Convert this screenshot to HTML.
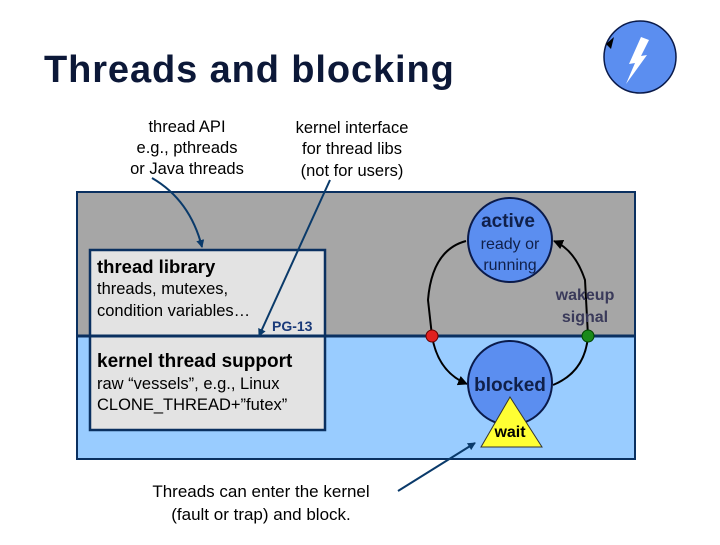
<!DOCTYPE html>
<html><head><style>
body{margin:0;width:720px;height:540px;background:#fff;overflow:hidden;font-family:"Liberation Sans",sans-serif}
</style></head><body>
<svg width="720" height="540" viewBox="0 0 720 540" font-family="Liberation Sans, sans-serif">
<defs>
<marker id="a" markerWidth="8" markerHeight="8" refX="7" refY="4" orient="auto" markerUnits="userSpaceOnUse"><path d="M0,0 L8,4 L0,8z" fill="#0a3a6a"/></marker>
<marker id="b" markerWidth="10" markerHeight="10" refX="9" refY="5" orient="auto" markerUnits="userSpaceOnUse"><path d="M0,0 L10,5 L0,10z" fill="#000"/></marker>
</defs>
<text x="44" y="82" font-size="38" font-weight="bold" fill="#0c1838" letter-spacing="0.9">Threads and blocking</text>
<circle cx="640" cy="57" r="36" fill="#5b8ef0" stroke="#0a1a4a" stroke-width="1.5"/>
<path d="M606,44 L614,37 L611,49z" fill="#000"/>
<path d="M641,37 L649,40 L641,56 L647,55 L626,84 L635,63 L629,64z" fill="#fff"/>
<g font-size="16.5" fill="#000" text-anchor="middle">
<text x="187" y="132">thread API</text><text x="187" y="153">e.g., pthreads</text><text x="187" y="174">or Java threads</text>
<text x="352" y="133">kernel interface</text><text x="352" y="154">for thread libs</text><text x="352" y="176">(not for users)</text>
</g>
<rect x="77" y="192" width="558" height="144" fill="#a6a6a6"/>
<rect x="77" y="336" width="558" height="123" fill="#99ccff"/>
<rect x="77" y="192" width="558" height="267" fill="none" stroke="#0a3060" stroke-width="2"/>
<rect x="90" y="250" width="235" height="86" fill="#e3e3e3" stroke="#0a3060" stroke-width="2.5"/>
<rect x="90" y="336" width="235" height="94" fill="#e3e3e3" stroke="#0a3060" stroke-width="2.5"/>
<line x1="77" y1="336" x2="635" y2="336" stroke="#0a3060" stroke-width="3"/>
<text x="97" y="273" font-size="18.5" font-weight="bold">thread library</text>
<text x="97" y="294" font-size="16.5">threads, mutexes,</text>
<text x="97" y="316" font-size="16.5">condition variables…</text>
<text x="272" y="331" font-size="14" font-weight="bold" fill="#1a3a7a">PG-13</text>
<text x="97" y="367" font-size="19" font-weight="bold">kernel thread support</text>
<text x="97" y="389" font-size="16.5">raw “vessels”, e.g., Linux</text>
<text x="97" y="410" font-size="16.5">CLONE_THREAD+”futex”</text>
<path d="M152,178 Q190,200 202,247" fill="none" stroke="#0a3a6a" stroke-width="2" marker-end="url(#a)"/>
<line x1="330" y1="180" x2="259" y2="336" stroke="#0a3a6a" stroke-width="2" marker-end="url(#a)"/>
<line x1="398" y1="491" x2="475" y2="443" stroke="#0a3a6a" stroke-width="2" marker-end="url(#a)"/>
<path d="M466,241 Q432,250 428,300 L432,336 Q438,372 467,384" fill="none" stroke="#000" stroke-width="2" marker-end="url(#b)"/>
<path d="M553,385 Q585,372 588,336 L585,280 Q575,250 554,241" fill="none" stroke="#000" stroke-width="2" marker-end="url(#b)"/>
<circle cx="510" cy="240" r="42" fill="#5b8ef0" stroke="#0a1a4a" stroke-width="2"/>
<circle cx="510" cy="383" r="42" fill="#5b8ef0" stroke="#0a1a4a" stroke-width="2"/>
<path d="M510,397 L542,447 L481,447z" fill="#ffff33" stroke="#333" stroke-width="1"/>
<circle cx="432" cy="336" r="6" fill="#e02020" stroke="#600" stroke-width="1"/>
<circle cx="588" cy="336" r="6" fill="#1a8a1a" stroke="#040" stroke-width="1"/>
<g text-anchor="middle" fill="#10204a">
<text x="508" y="227" font-size="19" font-weight="bold">active</text>
<text x="510" y="249" font-size="16">ready or</text>
<text x="510" y="270" font-size="16">running</text>
<text x="510" y="391" font-size="19" font-weight="bold">blocked</text>
<text x="510" y="437" font-size="16" font-weight="bold" fill="#000">wait</text>
<text x="585" y="300" font-size="16" font-weight="bold" fill="#3a3a5a">wakeup</text>
<text x="585" y="322" font-size="16" font-weight="bold" fill="#3a3a5a">signal</text>
<text x="261" y="497" font-size="17" fill="#000">Threads can enter the kernel</text>
<text x="261" y="520" font-size="17" fill="#000">(fault or trap) and block.</text>
</g>
</svg>
</body></html>
